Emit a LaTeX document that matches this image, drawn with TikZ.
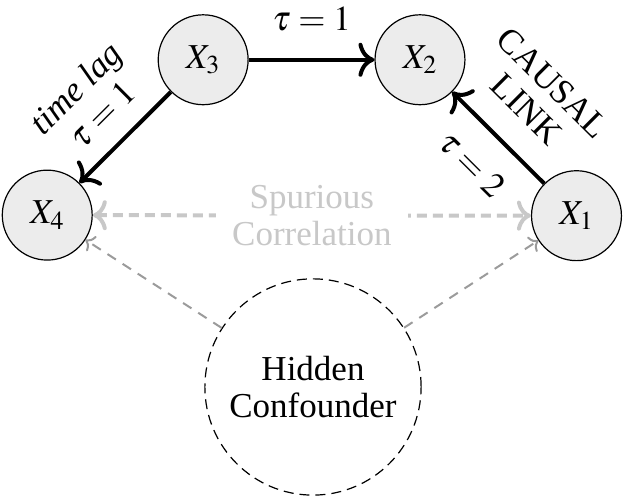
\documentclass[tikz,border=0pt]{standalone}
\usepackage{mathptmx}
\usepackage{fontspec}
\setmainfont{Liberation Serif}
\usepackage{tikz}
\usetikzlibrary{arrows.meta, positioning}
\definecolor{nodegray}{RGB}{236,236,236}
\definecolor{spurgray}{RGB}{200,200,200}
\definecolor{confgray}{RGB}{155,155,155}
\tikzset{
    % Observed variables
    varnode/.style={circle, fill=nodegray, draw=black, line width=0.6pt, minimum size=1.58cm, inner sep=0pt},
    % Latent variable
    confnode/.style={circle, draw=black, dash pattern=on 5pt off 3pt, line width=0.6pt, minimum size=3.8cm, inner sep=0pt, align=center},
    % Arrow styles
    lagarrow/.style={-{Computer Modern Rightarrow[length=8pt, width=17pt]}, line width=2pt},
    spurarrow/.style={{Computer Modern Rightarrow[length=7pt, width=15pt]}-{Computer Modern Rightarrow[length=7pt, width=15pt]},
                      line width=2pt, color=spurgray, dash pattern=on 5pt off 3pt},
    confarrow/.style={-{Computer Modern Rightarrow[length=4pt, width=9pt]}, line width=1pt, color=confgray, dash pattern=on 5pt off 4pt},
}

\begin{document}
\begin{tikzpicture}[font=\fontsize{17.5}{18.5}\selectfont]

\useasboundingbox (0,0) rectangle (10.965,-8.769);

% ============================================================
% Variables
% ============================================================
\node[varnode] (X3) at (3.57, -1.05) {$X_3$};
\node[varnode] (X2) at (7.38, -1.05) {$X_2$};
\node[varnode] (X4) at (0.83, -3.78) {$X_4$};
\node[varnode] (X1) at (10.13, -3.79) {$X_1$};
\node[confnode] (H) at (5.50, -6.80) {Hidden\\Confounder};

% ============================================================
% Lagged causal links
% ============================================================
\draw[lagarrow] (X3) -- node[midway, above=10pt] (lag1) {$\tau = 1$} (X2);
\draw[lagarrow] (X3) -- node[midway, sloped, above=6pt, align=center] (lag2) {\textit{time lag}\\$\tau = 1$} (X4);
\draw[lagarrow] (X1) -- node[midway, sloped, below=8pt] (lag3) {$\tau = 2$}
                        node[midway, sloped, above=10pt, align=center] (causal) {CAUSAL\\LINK} (X2);

% ============================================================
% Spurious correlation and confounder
% ============================================================
\draw[spurarrow] (X4) -- node[midway, fill=white, text=spurgray, align=center, inner sep=8pt] (spur) {Spurious\\Correlation} (X1);
\draw[confarrow] (H) -- (X4);
\draw[confarrow] (H) -- (X1);

\end{tikzpicture}
\end{document}
